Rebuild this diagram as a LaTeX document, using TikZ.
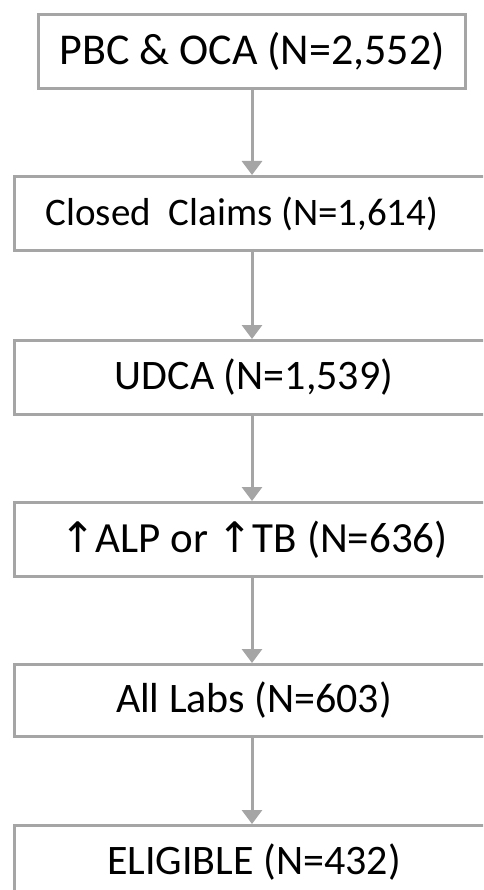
\documentclass[tikz,border=0pt]{standalone}
\usepackage{fontspec}
\setmainfont{Carlito}
\newfontfamily\symfont{DejaVu Sans}
\usetikzlibrary{arrows.meta}
\definecolor{boxgray}{HTML}{A5A5A5}
\begin{document}
\begin{tikzpicture}[x=1pt,y=-1pt,
  flowbox/.style={draw=boxgray,line width=3pt,fill=white,inner sep=0pt,
    minimum height=74pt,text=black,font=\fontsize{42}{48}\selectfont,anchor=north west},
  flowarrow/.style={draw=boxgray,line width=3pt,-{Triangle[length=14pt,width=20pt]}}]
\useasboundingbox (0,0) rectangle (483,890);
\clip (0,0) rectangle (483,890);
\fill[white] (0,0) rectangle (483,890);
\node[flowbox,minimum width=427pt,font=\fontsize{44}{48}\selectfont] (b1) at (37,13) {PBC \& OCA (N=2,552)};
\node[flowbox,minimum width=480pt,font=\fontsize{39}{48}\selectfont] (b2) at (12.5,175) {\hspace*{-24pt}Closed\ \ Claims (N=1,614)};
\node[flowbox,minimum width=480pt] (b3) at (12.5,339) {UDCA (N=1,539)};
\node[flowbox,minimum width=480pt,font=\fontsize{43}{48}\selectfont] (b4) at (12.5,501) {{\symfont\fontsize{42}{44}\selectfont↑}ALP or {\symfont\fontsize{42}{44}\selectfont↑}TB (N=636)};
\node[flowbox,minimum width=480pt,minimum height=72pt] (b5) at (12.5,663) {All Labs (N=603)};
\node[flowbox,minimum width=480pt] (b6) at (12.5,824) {ELIGIBLE (N=432)};
\coordinate (a1) at (252,88);
\coordinate (a2) at (252,249);
\coordinate (a3) at (252,413);
\coordinate (a4) at (252,575);
\coordinate (a5) at (252,735);
\draw[flowarrow] (a1) -- (a1 |- b2.north);
\draw[flowarrow] (a2) -- (a2 |- b3.north);
\draw[flowarrow] (a3) -- (a3 |- b4.north);
\draw[flowarrow] (a4) -- (a4 |- b5.north);
\draw[flowarrow] (a5) -- (a5 |- b6.north);
\end{tikzpicture}
\end{document}
